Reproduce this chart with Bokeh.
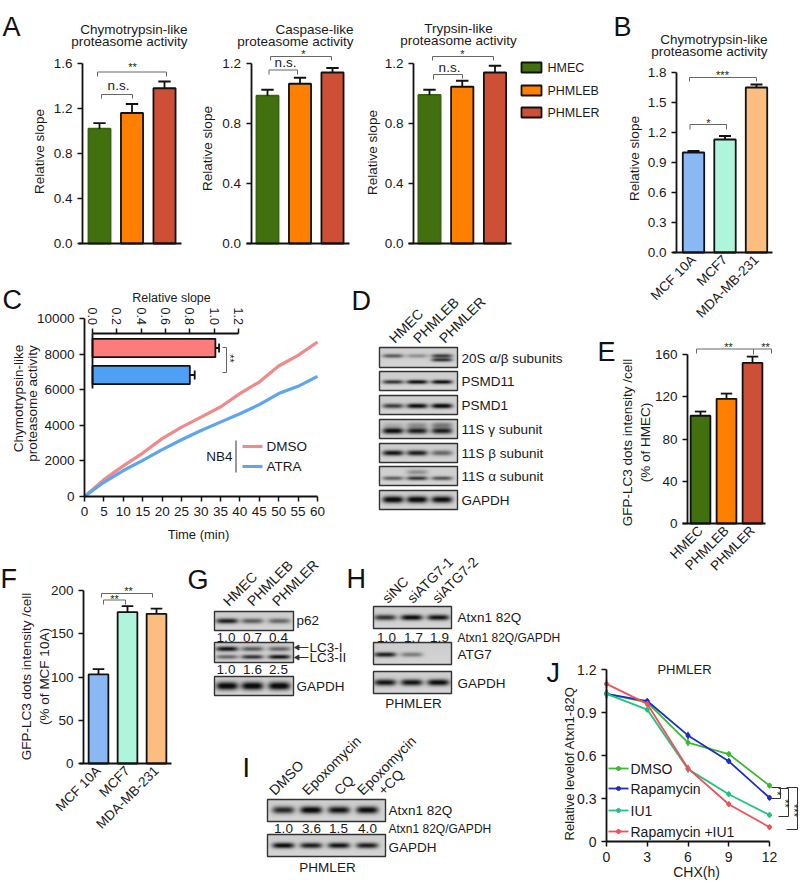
import math
import numpy as np
from bokeh.plotting import figure
from bokeh.models import Range1d, LinearAxis, FixedTicker
from bokeh.core.properties import value
from bokeh.embed import file_html
from bokeh.resources import INLINE

FONT = "Liberation Sans"
INK = "#1a1a1a"
GREY = "#666666"

# ---------- data ----------
cells_a = ["HMEC", "PHMLEB", "PHMLER"]
cells_b = ["MCF 10A", "MCF7", "MDA-MB-231"]
colors_a = ["#43700f", "#ff8000", "#cd4f35"]
colors_b = ["#8ab8f5", "#aef5dc", "#fbbd80"]

a1_vals = [1.02, 1.16, 1.38]
a1_errs = [0.05, 0.08, 0.06]
a2_vals = [0.985, 1.065, 1.14]
a2_errs = [0.04, 0.04, 0.03]
a3_vals = [0.99, 1.045, 1.14]
a3_errs = [0.035, 0.04, 0.045]
b_vals = [1.0, 1.13, 1.65]
b_errs = [0.015, 0.035, 0.03]
e_vals = [102, 118, 152]
e_errs = [4, 5, 6]
f_vals = [103, 175, 173]
f_errs = [6, 7, 6]

c_time = [0, 5, 10, 15, 20, 25, 30, 35, 40, 45, 50, 55, 60]
c_dmso = [0, 950, 1720, 2440, 3250, 3900, 4460, 5030, 5780, 6430, 7330, 7930, 8680]
c_atra = [0, 800, 1460, 2030, 2630, 3190, 3710, 4180, 4650, 5160, 5780, 6190, 6750]
inset_vals = [1.01, 0.80]
inset_errs = [0.03, 0.04]
inset_colors = ["#fc7c7c", "#4f9ff5"]

j_time = [0, 3, 6, 9, 12]
j_dmso = [1.03, 0.97, 0.69, 0.61, 0.39]
j_rapa = [1.03, 0.98, 0.74, 0.56, 0.305]
j_iu1 = [1.03, 0.92, 0.505, 0.33, 0.185]
j_both = [1.10, 0.96, 0.51, 0.26, 0.10]
j_errs = [0.03, 0.02, 0.025, 0.02, 0.02]
j_colors = ["#3cb832", "#1d2dc8", "#1fc47f", "#f0505a"]
j_names = ["DMSO", "Rapamycin", "IU1", "Rapamycin +IU1"]

d_labels = ["20S \u03b1/\u03b2 subunits", "PSMD11", "PSMD1", "11S \u03b3 subunit",
            "11S \u03b2 subunit", "11S \u03b1 subunit", "GAPDH"]
d_bands = [
    [(.42, 2.0, [.55, .30, .70]), (.62, 1.8, [0, 0, .75])],
    [(.55, 2.0, [.75, .95, .95])],
    [(.55, 2.4, [.70, .95, 1.0])],
    [(.60, 3.0, [.95, .85, .85]), (.30, 2.8, [.15, .30, .40])],
    [(.50, 2.7, [.90, .85, .50])],
    [(.62, 2.0, [.55, .75, .60]), (.30, 2.5, [0, .30, 0])],
    [(.48, 3.4, [1.0, 1.0, .95])],
]
g_bands = [
    [(.50, 2.6, [.85, .55, .50])],
    [(.32, 2.4, [.90, .55, .50]), (.72, 2.2, [.50, .75, .90])],
    [(.50, 4.0, [1.0, 1.0, 1.0])],
]
h_bands = [
    [(.50, 2.8, [.75, .95, .90])],
    [(.55, 2.4, [.85, .40, 0])],
    [(.50, 3.2, [.90, .90, .95])],
]
i_bands = [
    [(.48, 3.6, [.80, 1.0, .90, .95])],
    [(.50, 2.8, [.95, .85, .90, .85])],
]
g_nums = [["1.0", "0.7", "0.4"], ["1.0", "1.6", "2.5"]]
h_nums = ["1.0", "1.7", "1.9"]
i_nums = ["1.0", "3.6", "1.5", "4.0"]

# ---------- canvas: base ranges equal image pixels ----------
L, R, T, B = 0, 800, 0, 883
p = figure(width=R - L, height=B - T, x_range=Range1d(L, R), y_range=Range1d(B, T),
           x_axis_type=None, y_axis_type=None, toolbar_location=None,
           output_backend="svg", min_border=0, outline_line_color=None)
p.grid.visible = False
p.extra_y_ranges["up"] = Range1d(0, B - T)


def panel(name, xa, xb, pxa, pxb, ya, yb, pya, pyb):
    sx = (xb - xa) / (pxb - pxa)
    sy = (yb - ya) / (pyb - pya)
    p.extra_x_ranges[name] = Range1d(xa + (L - pxa) * sx, xa + (R - pxa) * sx)
    p.extra_y_ranges[name] = Range1d(ya + (B - pya) * sy, ya + (T - pya) * sy)
    return (lambda px: xa + (px - pxa) * sx), (lambda py: ya + (py - pya) * sy)


def style(ax, size=13.5):
    ax.major_label_text_font = FONT
    ax.major_label_text_font_size = f"{size}px"
    ax.major_label_text_color = INK
    ax.axis_line_color = "#111111"
    ax.axis_line_width = 1.8
    ax.major_tick_line_color = "#111111"
    ax.major_tick_line_width = 1.5
    ax.major_tick_in = 0
    ax.major_tick_out = 5
    ax.minor_tick_line_color = None
    ax.major_label_standoff = 5
    return ax


def fmt(ticks, dec):
    return {t: (f"{t:.{dec}f}" if dec else str(t)) for t in ticks}


def yaxis(name, ticks, at, dec=1, zero_plain=False, size=13.5):
    ax = style(LinearAxis(x_range_name=name, y_range_name=name, fixed_location=at,
                          ticker=FixedTicker(ticks=ticks), bounds=(ticks[0], ticks[-1])), size)
    ov = fmt(ticks, dec)
    if zero_plain:
        ov[ticks[0]] = "0"
    ax.major_label_overrides = ov
    p.add_layout(ax, "left")
    return ax


def xaxis(name, ticks, labels, at, bounds, orient=None, tick=True, size=13.5):
    ax = style(LinearAxis(x_range_name=name, y_range_name=name, fixed_location=at,
                          ticker=FixedTicker(ticks=ticks), bounds=bounds), size)
    ax.major_label_overrides = dict(zip(ticks, labels))
    if orient is not None:
        ax.major_label_orientation = orient
    if not tick:
        ax.major_tick_line_color = None
        ax.major_tick_out = 0
    p.add_layout(ax, "below")
    return ax


def bars(name, vals, errs, colors, edges, width, cap):
    xs = list(range(len(vals)))
    p.vbar(x=xs, top=vals, bottom=0, width=width, fill_color=colors, line_color=edges,
           line_width=1.8, x_range_name=name, y_range_name=name)
    tops = [v + e for v, e in zip(vals, errs)]
    p.segment(x0=xs, x1=xs, y0=vals, y1=tops, line_color="#111111", line_width=1.8,
              x_range_name=name, y_range_name=name)
    p.segment(x0=[x - cap for x in xs], x1=[x + cap for x in xs], y0=tops, y1=tops,
              line_color="#111111", line_width=1.8, x_range_name=name, y_range_name=name)


def T_(x, y, s, size=13, align="left", base="middle", angle=0.0, color=INK):
    p.text(x=[x], y=[y], text=[s], text_font=value(FONT), text_font_size=f"{size}px",
           text_align=align, text_baseline=base, angle=angle, text_color=color)


def title(cx, y1, y2, a, b, size=13.5):
    T_(cx, y1, a, size, "right")
    T_(cx, y2, b, size, "right")


def ylab(x, cy, s, size=13.5):
    T_(x, cy, s, size, "center", "middle", math.pi / 2)


def bracket(xs, ys, color=GREY):
    p.line(x=xs, y=ys, line_color=color, line_width=1.0)


def stars(x, y, s, angle=0.0, size=11):
    T_(x, y, s, size, "center", "middle", angle, "#222222")


def blot(x0, y0, x1, y1, lanes, bands, hw):
    w, h = int(x1 - x0), int(y1 - y0)
    X, Y = np.meshgrid(np.arange(w) + .5, np.arange(h) + .5)
    v = 0.82 + 0.03 * (Y / h - .5)
    for yf, hh, ints in bands:
        for lx, i in zip(lanes, ints):
            if i:
                v = v - 0.85 * i * np.exp(-((X - lx * w) / hw) ** 4) * np.exp(-((Y - yf * h) / hh) ** 2)
    v = np.clip(v, 0.05, 1)
    g = (v * 255).astype(np.uint8)
    rgba = np.zeros((h, w), dtype=np.uint32)
    view = rgba.view(np.uint8).reshape((h, w, 4))
    view[..., 0] = g
    view[..., 1] = g
    view[..., 2] = g
    view[..., 3] = 255
    p.image_rgba(image=[rgba[::-1]], x=[x0], y=[B - y1], dw=[x1 - x0], dh=[y1 - y0], y_range_name="up")
    p.quad(left=[x0], right=[x1], top=[y0], bottom=[y1], fill_color=None,
           line_color="#333333", line_width=1.4)


def letter(x, y, s):
    T_(x, y, s, 27, "left", "alphabetic", 0, "#111111")


# ---------- A ----------
edges_a = ["#3a6410", "#111111", "#111111"]
for name, vals, errs, ticks, cx0, cx2, ax_x, left, right, ymax in [
    ("a1", a1_vals, a1_errs, [0, .4, .8, 1.2, 1.6], 99, 164, 82, 78, 181, 1.6),
    ("a2", a2_vals, a2_errs, [0, .4, .8, 1.2], 267, 332, 250.5, 246, 349, 1.2),
    ("a3", a3_vals, a3_errs, [0, .4, .8, 1.2], 429, 494.5, 413, 408, 511, 1.2),
]:
    xd, yd = panel(name, 0, 2, cx0, cx2, 0, ymax, 243, 63)
    bars(name, vals, errs, colors_a, edges_a, 0.68, 0.19)
    yaxis(name, ticks, xd(ax_x))
    xaxis(name, [], [], 0, (xd(left), xd(right)), tick=False)

title(187, 29, 41, "Chymotrypsin-like", "proteasome activity")
title(353, 29, 41, "Caspase-like", "proteasome activity")
T_(458, 28, "Trypsin-like", 13.5, "center")
T_(458, 40, "proteasome activity", 13.5, "center")
ylab(39, 151, "Relative slope")
ylab(207, 148, "Relative slope")
ylab(372, 152, "Relative slope")
T_(118, 85, "n.s.", 13.5, "center")
bracket([101, 101, 132, 132], [98, 94, 94, 98])
bracket([97, 97, 166, 166], [76, 71.5, 71.5, 76])
stars(132, 66, "**")
T_(285, 62, "n.s.", 13.5, "center")
bracket([268.5, 268.5, 297, 297], [74, 69.5, 69.5, 74])
bracket([270, 270, 331, 331], [60, 56, 56, 60])
stars(303, 53, "*")
T_(449, 67, "n.s.", 13.5, "center")
bracket([433, 433, 462, 462], [79, 74, 74, 78])
bracket([432, 432, 493, 493], [60, 56, 56, 60])
stars(462, 53, "*")
for i, (nm, c) in enumerate(zip(cells_a, colors_a)):
    yy = [67, 90, 112][i]
    p.quad(left=[521], right=[541], top=[yy - 5], bottom=[yy + 5], fill_color=c,
           line_color="#111111", line_width=1.8)
    T_(547, yy, nm, 12.5)

# ---------- B ----------
xd, yd = panel("b", 0, 2, 693, 756, 0, 1.8, 252, 72)
bars("b", b_vals, b_errs, colors_b, ["#111111"] * 3, 0.68, 0.19)
yaxis("b", [0, .3, .6, .9, 1.2, 1.5, 1.8], xd(676))
xaxis("b", [0, 1, 2], cells_b, 0, (xd(672), xd(772)), math.pi / 4, tick=False)
title(767, 39, 51, "Chymotrypsin-like", "proteasome activity")
ylab(634, 158, "Relative slope")
bracket([689, 689, 756, 756], [81, 77, 77, 81])
stars(722, 74, "***")
bracket([689.5, 689.5, 726, 726], [129, 124, 124, 129])
stars(708, 122, "*")

# ---------- C ----------
xd, yd = panel("c", 0, 60, 84, 317, 0, 10000, 496, 318)
p.line(x=c_time, y=c_dmso, line_color="#ef8a8a", line_width=3.2, x_range_name="c", y_range_name="c")
p.line(x=c_time, y=c_atra, line_color="#5da6ee", line_width=3.2, x_range_name="c", y_range_name="c")
yaxis("c", [0, 2000, 4000, 6000, 8000, 10000], 0, 0)
xaxis("c", c_time, [str(t) for t in c_time], 0, (0, 60))

xi, yi = panel("ci", 0, 1.2, 92, 238, 0, 1, 347.5, 374.5)
p.hbar(y=[0, 1], left=0, right=inset_vals, height=0.68, fill_color=inset_colors, line_color="#111111",
       line_width=1.8, x_range_name="ci", y_range_name="ci")
ends = [v + e for v, e in zip(inset_vals, inset_errs)]
p.segment(x0=inset_vals, x1=ends, y0=[0, 1], y1=[0, 1], line_color="#111111", line_width=1.8,
          x_range_name="ci", y_range_name="ci")
p.segment(x0=ends, x1=ends, y0=[-.17, .83], y1=[.17, 1.17], line_color="#111111", line_width=1.8,
          x_range_name="ci", y_range_name="ci")
top_ax = style(LinearAxis(x_range_name="ci", y_range_name="ci", fixed_location=yi(332.5),
                          ticker=FixedTicker(ticks=[0, .2, .4, .6, .8, 1.0, 1.2]), bounds=(0, 1.2)), 12.5)
top_ax.major_label_overrides = fmt([0, .2, .4, .6, .8, 1.0, 1.2], 1)
top_ax.major_label_orientation = -math.pi / 2
top_ax.major_label_standoff = 3
p.add_layout(top_ax, "above")
left_ax = style(LinearAxis(x_range_name="ci", y_range_name="ci", fixed_location=0,
                           ticker=FixedTicker(ticks=[]), bounds=(yi(388), yi(332.5))))
p.add_layout(left_ax, "left")
T_(171, 297, "Relative slope", 12.5, "center")
bracket([222, 226, 226, 222], [347, 347, 372, 372])
stars(229.5, 358, "**", -math.pi / 2)
T_(18, 398, "Chymotrypsin-like", 13.5, "center", "middle", math.pi / 2)
T_(32, 403, "proteasome activity", 13.5, "center", "middle", math.pi / 2)
T_(198, 534, "Time (min)", 13, "center")
T_(219, 456, "NB4", 13.5, "center")
p.line(x=[235.5, 235.5], y=[440, 472], line_color="#333333", line_width=1)
p.line(x=[242, 262], y=[446, 446], line_color="#ef8a8a", line_width=3.2)
p.line(x=[242, 262], y=[466, 466], line_color="#5da6ee", line_width=3.2)
T_(266, 446, "DMSO", 13.5)
T_(266, 466, "ATRA", 13.5)

# ---------- D ----------
d_rows = [(347, 367), (371, 390), (395, 414), (419, 438), (443, 462), (466, 485), (490, 509)]
for (y0, y1), lab, b_ in zip(d_rows, d_labels, d_bands):
    blot(379, y0, 457, y1, [.174, .483, .80], b_, 10.5)
    T_(461, (y0 + y1) / 2 + .5, lab, 13.5)
for x, s in zip([391, 415, 441], cells_a):
    T_(x, 340, s, 14, "left", "middle", math.pi / 4)

# ---------- E ----------
xd, yd = panel("e", 0, 2, 700, 752, 0, 160, 523, 354)
bars("e", e_vals, e_errs, colors_a, ["#111111"] * 3, 0.76, 0.22)
yaxis("e", [0, 40, 80, 120, 160], xd(687), 0)
xaxis("e", [0, 1, 2], cells_a, 0, (xd(682), xd(765)), math.pi / 4, tick=False)
ylab(627, 442, "GFP-LC3 dots intensity /cell")
T_(645, 442, "(% of HMEC)", 13.5, "center", "middle", math.pi / 2)
bracket([696, 696, 771, 771], [353, 348.5, 348.5, 353])
bracket([753, 753], [348.5, 354])
stars(728, 346, "**")
stars(765, 346, "**")

# ---------- F ----------
xd, yd = panel("f", 0, 2, 98, 156, 0, 200, 763, 590)
bars("f", f_vals, f_errs, colors_b, ["#111111"] * 3, 0.68, 0.2)
yaxis("f", [0, 50, 100, 150, 200], xd(83), 0)
xaxis("f", [0, 1, 2], cells_b, 0, (xd(79), xd(171)), math.pi / 4, tick=False)
ylab(26, 676, "GFP-LC3 dots intensity /cell")
T_(44, 676, "(% of MCF 10A)", 13.5, "center", "middle", math.pi / 2)
bracket([101, 101, 152, 152], [597, 593, 593, 597])
bracket([103, 103, 125, 125], [604, 599.5, 599.5, 604])
stars(128, 590, "**")
stars(114, 598, "**")

# ---------- G ----------
g_rows = [(611, 630), (642, 662), (676, 695)]
g_lanes = [.16, .48, .82]
for (y0, y1), b_ in zip(g_rows, g_bands):
    blot(214, y0, 293, y1, g_lanes, b_, 11)
for x, s in zip([225, 249, 274], cells_a):
    T_(x, 603, s, 14, "left", "middle", math.pi / 4)
T_(296, 620, "p62", 13.5)
T_(296, 686, "GAPDH", 13.5)
for yy, nums in zip([637, 669], g_nums):
    for x, s in zip([225.5, 252, 278], nums):
        T_(x, yy, s, 13.5, "center")
for yy, s in zip([647, 657], ["LC3-I", "LC3-II"]):
    p.line(x=[296, 308], y=[yy, yy], line_color="#333333", line_width=1)
    p.scatter(x=[297], y=[yy], marker="triangle", angle=math.pi / 2, size=5, color="#333333")
    T_(309, yy, s, 13.5)

# ---------- H ----------
h_rows = [(606, 628), (642, 664), (671, 693)]
h_lanes = [.15, .49, .83]
for (y0, y1), b_ in zip(h_rows, h_bands):
    blot(373, y0, 451, y1, h_lanes, b_, 11)
for x, s in zip([384, 409, 434], ["siNC", "siATG7-1", "siATG7-2"]):
    T_(x, 600, s, 14, "left", "middle", math.pi / 4)
for x, s in zip([386, 413, 439], h_nums):
    T_(x, 637, s, 13.5, "center")
T_(457, 617, "Atxn1 82Q", 13.5)
T_(457, 637, "Atxn1 82Q/GAPDH", 12)
T_(457, 654, "ATG7", 13.5)
T_(457, 683, "GAPDH", 13.5)
T_(413, 703, "PHMLER", 13.5, "center")

# ---------- I ----------
i_rows = [(799, 821), (834, 856)]
i_lanes = [.135, .37, .605, .845]
for (y0, y1), b_ in zip(i_rows, i_bands):
    blot(267, y0, 385, y1, i_lanes, b_, 11)
for x, s in zip([271, 304, 336, 359, 380], ["DMSO", "Epoxomycin", "CQ", "Epoxomycin", "+CQ"]):
    T_(x, 792, s, 14, "left", "middle", math.pi / 4)
for x, s in zip([283, 311, 338, 367], i_nums):
    T_(x, 828, s, 13.5, "center")
T_(388, 810, "Atxn1 82Q", 13.5)
T_(388, 828, "Atxn1 82Q/GAPDH", 12)
T_(388, 847, "GAPDH", 13.5)
T_(327, 867, "PHMLER", 13.5, "center")

# ---------- J ----------
xd, yd = panel("j", 0, 12, 606, 769, 0, 1.2, 841, 669)
for vals, c in zip([j_dmso, j_rapa, j_iu1, j_both], j_colors):
    p.line(x=j_time, y=vals, line_color=c, line_width=1.8, x_range_name="j", y_range_name="j")
    p.scatter(x=j_time, y=vals, size=4, color=c, x_range_name="j", y_range_name="j")
    lo = [v - e for v, e in zip(vals, j_errs)]
    hi = [v + e for v, e in zip(vals, j_errs)]
    p.segment(x0=j_time, x1=j_time, y0=lo, y1=hi, line_color=c, line_width=1.5,
              x_range_name="j", y_range_name="j")
yaxis("j", [0, .3, .6, .9, 1.2], 0, 1, zero_plain=True, size=14)
xaxis("j", j_time, [str(t) for t in j_time], 0, (0, 12), size=14)
for yy, c, s in zip([768, 788, 810, 831], j_colors, j_names):
    p.line(x=[608, 628], y=[yy, yy], line_color=c, line_width=1.8)
    p.scatter(x=[618], y=[yy], size=4, color=c)
    T_(630, yy, s, 14)
T_(684, 669, "PHMLER", 13, "center")
ylab(569, 763, "Relative levelof Atxn1-82Q", 13)
T_(696, 871, "CHX(h)", 14, "center")
bracket([771, 780, 780, 771], [787, 787, 798, 798], "#333333")
bracket([778, 788, 788, 778], [788, 788, 816, 816], "#333333")
bracket([786, 797, 797, 786], [787, 787, 829, 829], "#333333")
stars(776.5, 793, "*", -math.pi / 2)
stars(784, 803, "**", -math.pi / 2)
stars(793, 810, "***", -math.pi / 2)

# ---------- panel letters ----------
for x, y, s in [(2, 26, "A"), (613, 26, "B"), (2, 299, "C"), (351, 300, "D"), (597, 351, "E"),
                (0, 578, "F"), (187, 579, "G"), (346, 578, "H"), (242, 767, "I"), (546, 672, "J")]:
    letter(x, y, s)

open("out.html", "w").write(file_html(p, INLINE))
